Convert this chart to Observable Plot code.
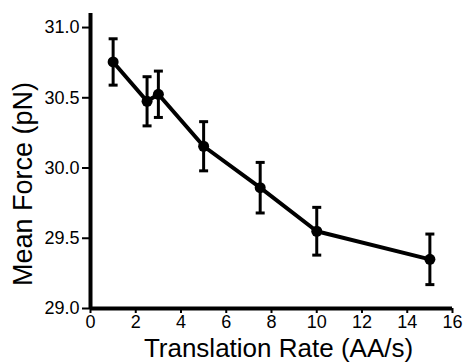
<!DOCTYPE html>
<html>
<head>
<meta charset="utf-8">
<script src="https://cdn.jsdelivr.net/npm/d3@7"></script>
<script src="https://cdn.jsdelivr.net/npm/@observablehq/plot@0.6"></script>
<style>
  html, body { margin: 0; padding: 0; background: #fff; }
  svg [aria-label$="axis tick"], svg [aria-label^="x-axis"] line, svg [aria-label^="y-axis"] line { stroke-width: 2px; }
</style>
</head>
<body>
<div id="chart"></div>
<script>
const rates = [1, 2.5, 3, 5, 7.5, 10, 15];
const meanForce = [30.755, 30.475, 30.525, 30.155, 29.86, 29.55, 29.35];
const errors = [0.165, 0.175, 0.165, 0.175, 0.18, 0.17, 0.18];
const xTicks = [0, 2, 4, 6, 8, 10, 12, 14, 16];
const yTicks = [29.0, 29.5, 30.0, 30.5, 31.0];
const xTitle = "Translation Rate (AA/s)";
const yTitle = "Mean Force (pN)";

const data = rates.map((x, i) => ({x, y: meanForce[i], lo: meanForce[i] - errors[i], hi: meanForce[i] + errors[i]}));

const cap = {
  draw(ctx, size) {
    const w = Math.sqrt(size / Math.PI);
    ctx.moveTo(-w, 0);
    ctx.lineTo(w, 0);
  }
};

const chart = Plot.plot({
  width: 464,
  height: 362,
  marginLeft: 90,
  marginRight: 12,
  marginTop: 13,
  marginBottom: 54,
  style: {fontSize: "18px", fontFamily: "'Liberation Sans', Arial, sans-serif", color: "#000", background: "#fff"},
  x: {domain: [0, 16], ticks: xTicks, tickSize: 5, tickPadding: 2, label: null, tickFormat: d3.format("d")},
  y: {domain: [29, 31.1], ticks: yTicks, tickSize: 8, tickPadding: 3, label: null, tickFormat: d3.format(".1f")},
  marks: [
    Plot.ruleX(data, {x: "x", y1: "lo", y2: "hi", stroke: "#000", strokeWidth: 3}),
    Plot.dot(data, {x: "x", y: "hi", symbol: cap, r: 4.5, stroke: "#000", strokeWidth: 3, fill: "none"}),
    Plot.dot(data, {x: "x", y: "lo", symbol: cap, r: 4.5, stroke: "#000", strokeWidth: 3, fill: "none"}),
    Plot.line(data, {x: "x", y: "y", stroke: "#000", strokeWidth: 4}),
    Plot.dot(data, {x: "x", y: "y", r: 5.5, fill: "#000"}),
    Plot.ruleX([0], {stroke: "#000", strokeWidth: 4}),
    Plot.ruleY([29], {stroke: "#000", strokeWidth: 4}),
    Plot.text([xTitle], {frameAnchor: "bottom", textAnchor: "middle", lineAnchor: "middle", dx: 7, dy: 40, fontSize: 26, fill: "#000"}),
    Plot.text([yTitle], {frameAnchor: "left", textAnchor: "middle", lineAnchor: "middle", rotate: -90, dx: -67, dy: 23, fontSize: 27, fill: "#000"})
  ]
});
d3.select(chart).selectAll('g[aria-label^="x-axis"], g[aria-label^="y-axis"]')
  .attr("font-size", 18)
  .selectAll("text").attr("font-size", 18);
document.getElementById("chart").append(chart);
</script>
</body>
</html>
